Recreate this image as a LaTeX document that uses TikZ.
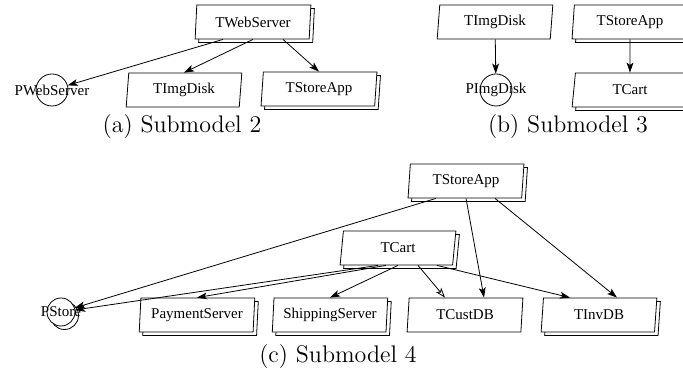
\documentclass[tikz,border=0pt]{standalone}
\usepackage{fontspec}
\newfontfamily\labelfont{Liberation Serif}
\usetikzlibrary{arrows.meta,shapes.geometric,shadows}
\tikzset{>={Stealth[length=5pt,width=3.4pt,inset=1.2pt]}}
\newcommand{\stackoff}{1.75pt}
\newcommand{\lblsize}{\labelfont\fontsize{7.5}{9}\selectfont}
\tikzset{
  trans/.style={trapezium, trapezium left angle=84, trapezium right angle=96,
    trapezium stretches=true, draw, fill=white, minimum width=58pt,
    minimum height=17pt, inner sep=0pt, font=\lblsize},
  stacked/.style={copy shadow={shadow xshift=\stackoff, shadow yshift=-\stackoff}},
  multi/.style={trans, stacked},
  pl/.style={circle, draw, minimum size=16pt, inner sep=0pt,
    label={[font=\lblsize]center:#1}},
  caption/.style={font=\large},
}

\begin{document}
\begin{tikzpicture}[x=0.5pt, y=-0.5pt]
  \useasboundingbox (0,0) rectangle (683,373);
  % (a) Submodel 2
  \node[multi] (tws) at (253,22) {TWebServer};
  \node[pl=PWebServer] (pws) at (52,90) {};
  \node[trans] (tid2) at (184,90) {TImgDisk};
  \node[multi] (tsa2) at (319,89) {TStoreApp};
  \node[caption] (cap2) at (182,127) {(a) Submodel 2};
  \draw[->] ([xshift=-15pt]tws.south) -- (pws);
  \draw[->] (tws.south) -- (tid2.north);
  \draw[->] ([xshift=15pt]tws.south) -- (tsa2.north);
  % (b) Submodel 3
  \node[trans] (tid3) at (495,22) {TImgDisk};
  \node[pl=PImgDisk] (pid) at (496,90) {};
  \node[multi] (tsa3) at (630,22) {TStoreApp};
  \node[multi] (tc3) at (630,90) {TCart};
  \node[caption] (cap3) at (568,127) {(b) Submodel 3};
  \draw[->] (tid3) -- (pid);
  \draw[->] (tsa3) -- (tc3);
  % (c) Submodel 4
  \node[multi] (tsa4) at (466,181) {TStoreApp};
  \node[multi] (tc4) at (398,248) {TCart};
  \node[pl=PStore, minimum size=14pt, fill=white, stacked] (pst) at (61,312) {};
  \node[multi] (pay) at (197,315) {PaymentServer};
  \node[multi] (ship) at (330,315) {ShippingServer};
  \node[trans] (tcd) at (465,315) {TCustDB};
  \node[multi] (tinv) at (599,315) {TInvDB};
  \node[caption] (cap4) at (338,357) {(c) Submodel 4};
  \draw[->] ([xshift=-15pt]tsa4.south) -- (pst);
  \draw[->] (tsa4.south) -- ([xshift=9.5pt]tcd.north);
  \draw[->] ([xshift=14.5pt]tsa4.south) -- ([xshift=9pt]tinv.north);
  \draw[->] ([xshift=-10pt]tc4.south) -- (pst);
  \draw[->] ([xshift=-6pt]tc4.south) -- (pay.north);
  \draw[->] (tc4.south) -- (ship.north);
  \draw[-{Stealth[open,length=5pt,width=3.4pt,inset=1.2pt]}]
    ([xshift=10pt]tc4.south) -- ([xshift=-10pt]tcd.north);
  \draw[->] ([xshift=19.5pt]tc4.south) -- ([xshift=-14.5pt]tinv.north);
\end{tikzpicture}
\end{document}
